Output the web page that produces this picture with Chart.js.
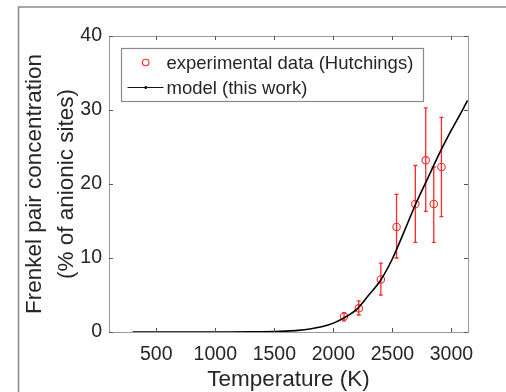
<!DOCTYPE html>
<html>
<head>
<meta charset="utf-8">
<script src="https://cdn.jsdelivr.net/npm/chart.js@4"></script>
<style>
  html, body { margin: 0; padding: 0; background: #ffffff; }
  #wrap { width: 506px; height: 392px; position: relative; }
</style>
</head>
<body>
<div id="wrap"><canvas id="c" width="506" height="392"></canvas></div>
<script>
// ---- data ----
const expLabel = 'experimental data (Hutchings)';
const modelLabel = 'model (this work)';
const expT   = [2090, 2215, 2402, 2535, 2694, 2782, 2850, 2915];
const expY   = [2.1, 3.2, 7.1, 14.2, 17.3, 23.2, 17.3, 22.3];
const errLo  = [1.5, 2.3, 5.0, 10.0, 12.1, 16.3, 12.1, 15.6];
const errHi  = [2.6, 4.2, 9.3, 18.6, 22.5, 30.3, 22.3, 29.0];
const modelT = [300, 500, 700, 900, 1100, 1300, 1400, 1500, 1600, 1700, 1800, 1900, 2000, 2100, 2200, 2300, 2400, 2500, 2600, 2700, 2800, 2900, 3000, 3100, 3136];
const modelY = [0, 0, 0, 0, 0.002, 0.015, 0.03, 0.06, 0.12, 0.22, 0.4, 0.7, 1.2, 2.0, 3.1, 5.0, 7.0, 9.9, 13.6, 17.4, 20.8, 24.2, 27.3, 30.2, 31.3];
const xTicks = [500, 1000, 1500, 2000, 2500, 3000];
const yTicks = [0, 10, 20, 30, 40];
const xTitle = 'Temperature (K)';
const yTitle = ['Frenkel pair concentration', '(% of anionic sites)'];

const FONT = 'Liberation Sans, Arial, Helvetica, sans-serif';
const TXT = '#262626';
const BOX = '#9a9a9a';
const RED = '#ff2a2a';

const frame = {
  id: 'frame',
  beforeDraw(chart) {
    const ctx = chart.ctx;
    ctx.save();
    ctx.fillStyle = '#ffffff';
    ctx.fillRect(0, 0, chart.width, chart.height);
    ctx.strokeStyle = '#8a8a8a';
    ctx.lineWidth = 1.5;
    ctx.beginPath();
    ctx.moveTo(18.5, chart.height + 2);
    ctx.lineTo(18.5, 7);
    ctx.lineTo(chart.width + 2, 7);
    ctx.stroke();
    ctx.restore();
  }
};

const errorBars = {
  id: 'errorBars',
  beforeDatasetsDraw(chart) {
    const ctx = chart.ctx;
    const xs = chart.scales.x, ys = chart.scales.y;
    ctx.save();
    ctx.strokeStyle = RED;
    ctx.lineWidth = 1.3;
    for (let i = 0; i < expT.length; i++) {
      const x = xs.getPixelForValue(expT[i]);
      const y1 = ys.getPixelForValue(errLo[i]);
      const y2 = ys.getPixelForValue(errHi[i]);
      ctx.beginPath();
      ctx.moveTo(x, y1); ctx.lineTo(x, y2);
      ctx.moveTo(x - 2, y1); ctx.lineTo(x + 2, y1);
      ctx.moveTo(x - 2, y2); ctx.lineTo(x + 2, y2);
      ctx.stroke();
    }
    ctx.restore();
  }
};

const boxTicks = {
  id: 'boxTicks',
  afterDatasetsDraw(chart) {
    const ctx = chart.ctx;
    const a = chart.chartArea;
    const xs = chart.scales.x, ys = chart.scales.y;
    ctx.save();
    ctx.strokeStyle = BOX;
    ctx.lineWidth = 1;
    ctx.strokeRect(Math.round(a.left) + 0.5, Math.round(a.top) + 0.5,
                   Math.round(a.right - a.left), Math.round(a.bottom - a.top));
    ctx.strokeStyle = '#555555';
    ctx.beginPath();
    const L = 4;
    xTicks.forEach(v => {
      const x = Math.round(xs.getPixelForValue(v)) + 0.5;
      ctx.moveTo(x, a.bottom); ctx.lineTo(x, a.bottom - L);
      ctx.moveTo(x, a.top); ctx.lineTo(x, a.top + L);
    });
    yTicks.forEach(v => {
      const y = Math.round(ys.getPixelForValue(v)) + 0.5;
      ctx.moveTo(a.left, y); ctx.lineTo(a.left + L, y);
      ctx.moveTo(a.right, y); ctx.lineTo(a.right - L, y);
    });
    ctx.stroke();

    // legend box
    const lx = 121.5, ly = 48.5, lw = 302, lh = 53;
    ctx.fillStyle = '#ffffff';
    ctx.fillRect(lx, ly, lw, lh);
    ctx.strokeStyle = '#8a8a8a';
    ctx.lineWidth = 1.2;
    ctx.strokeRect(lx, ly, lw, lh);
    // entry 1: circle marker
    ctx.strokeStyle = RED;
    ctx.lineWidth = 1.1;
    ctx.beginPath();
    ctx.arc(145.7, 62.5, 3.3, 0, Math.PI * 2);
    ctx.stroke();
    // entry 2: line
    ctx.strokeStyle = '#111111';
    ctx.lineWidth = 1.2;
    ctx.beginPath();
    ctx.moveTo(127.5, 87.5); ctx.lineTo(163.5, 87.5);
    ctx.stroke();
    ctx.fillStyle = '#111111';
    ctx.fillRect(144.7, 86, 2, 3);
    ctx.fillStyle = TXT;
    ctx.font = '18.5px ' + FONT;
    ctx.textBaseline = 'middle';
    ctx.textAlign = 'left';
    ctx.fillText(chart.data.datasets[1].label, 166.5, 63.5);
    ctx.fillText(chart.data.datasets[0].label, 166.5, 88.5);
    ctx.restore();
  }
};

new Chart(document.getElementById('c'), {
  type: 'scatter',
  data: {
    datasets: [
      {
        label: modelLabel,
        type: 'line',
        data: modelT.map((t, i) => ({ x: t, y: modelY[i] })),
        borderColor: '#000000',
        borderWidth: 1.6,
        pointRadius: 0,
        cubicInterpolationMode: 'monotone',
        fill: false,
        order: 0
      },
      {
        label: expLabel,
        data: expT.map((t, i) => ({ x: t, y: expY[i] })),
        pointStyle: 'circle',
        pointRadius: 3.7,
        pointBorderWidth: 1.1,
        pointBorderColor: RED,
        pointBackgroundColor: 'rgba(0,0,0,0)',
        showLine: false,
        order: 1
      }
    ]
  },
  options: {
    responsive: false,
    animation: false,
    devicePixelRatio: 1,
    layout: { padding: { left: 0, right: 38, top: 36, bottom: 0 } },
    plugins: { legend: { display: false }, tooltip: { enabled: false } },
    scales: {
      x: {
        type: 'linear',
        min: 100,
        max: 3140,
        afterBuildTicks: s => { s.ticks = xTicks.map(v => ({ value: v })); },
        afterFit: s => { s.height = 60; },
        grid: { display: false, drawTicks: false },
        border: { display: false },
        ticks: { color: TXT, font: { family: FONT, size: 19.5 }, padding: 11, maxRotation: 0, autoSkip: false,
                 callback: v => String(v) },
        title: { display: true, text: xTitle, color: TXT, font: { family: FONT, size: 22.5, lineHeight: 1.0 }, padding: { top: 0, bottom: 0.5 } }
      },
      y: {
        type: 'linear',
        min: 0,
        max: 40,
        afterBuildTicks: s => { s.ticks = yTicks.map(v => ({ value: v })); },
        afterFit: s => { s.width = 109; },
        grid: { display: false, drawTicks: false },
        border: { display: false },
        ticks: { color: TXT, font: { family: FONT, size: 19.5 }, padding: 7, callback: v => String(v) },
        title: { display: true, text: yTitle, color: TXT, font: { family: FONT, size: 22.5, lineHeight: 1.4 }, padding: { top: 19.5, bottom: 0 } }
      }
    }
  },
  plugins: [frame, errorBars, boxTicks]
});
</script>
</body>
</html>
